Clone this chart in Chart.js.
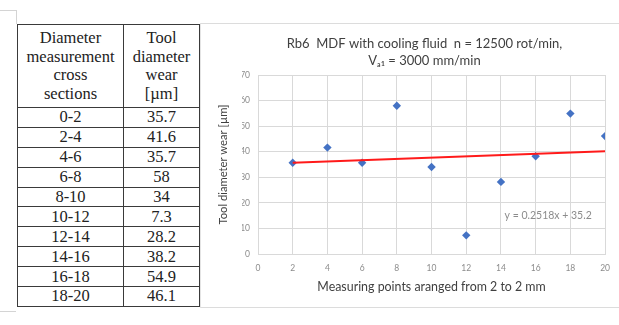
<!DOCTYPE html>
<html>
<head>
<meta charset="utf-8">
<script src="https://cdn.jsdelivr.net/npm/chart.js@4/dist/chart.umd.min.js"></script>
<style>
  html, body { margin: 0; padding: 0; background: #fff; }
  body { width: 619px; height: 325px; position: relative; overflow: hidden; }
  #tbl { position: absolute; left: 17px; top: 24px; border-collapse: collapse; table-layout: fixed; width: 182px;
         font-family: "Liberation Serif", "Times New Roman", serif; font-size: 16.5px; color: #222; }
  #tbl td, #tbl th { border: 1.5px solid #3a3a3a; padding: 0; text-align: center; font-weight: normal; overflow: visible; white-space: nowrap; }
  #tbl th { height: 82px; line-height: 18.5px; vertical-align: middle; }
  #tbl td { height: 18.9px; line-height: 18px; }
  #frame { position: absolute; left: 200px; top: 23px; width: 430px; height: 283px;
           border-left: 1px solid #e4e4e4; border-top: 1px solid #dcdcdc; border-bottom: 1px solid #dcdcdc; }
  #wrap { position: absolute; left: 200px; top: 24px; width: 419px; height: 282px; }
  .mk { position: absolute; background: #d4d4d4; }
</style>
</head>
<body>
<div class="mk" style="left:0;top:10px;width:16px;height:1px"></div>
<div class="mk" style="left:16px;top:10px;width:1px;height:14px"></div>
<div class="mk" style="left:0;top:311px;width:16px;height:1px"></div>
<table id="tbl"><colgroup><col style="width:106px"><col style="width:76px"></colgroup></table>
<div id="frame"></div>
<div id="wrap"><canvas id="c" width="419" height="282"></canvas></div>
<script>
// ---- data ----
const tableHeaders = [["Diameter", "measurement", "cross", "sections"], ["Tool", "diameter", "wear", "[\u00b5m]"]];
const sections = ["0-2", "2-4", "4-6", "6-8", "8-10", "10-12", "12-14", "14-16", "16-18", "18-20"];
const measuringPoints = [2, 4, 6, 8, 10, 12, 14, 16, 18, 20];
const wear = [35.7, 41.6, 35.7, 58, 34, 7.3, 28.2, 38.2, 54.9, 46.1];
const trendX = [2, 20];
const trendY = [35.7, 40.2];
const trendLabel = "y = 0.2518x + 35.2";
const chartTitle = ["Rb6  MDF with cooling fluid  n = 12500 rot/min,", "V\u2090\u2081 = 3000 mm/min"];
const xTitle = "Measuring points aranged from 2 to 2 mm";
const yTitle = "Tool diameter wear [\u00b5m]";

// ---- table ----
const tbl = document.getElementById('tbl');
const hr = document.createElement('tr');
tableHeaders.forEach((lines) => {
  const th = document.createElement('th');
  th.innerHTML = lines.join('<br>');
  hr.appendChild(th);
});
tbl.appendChild(hr);
sections.forEach((s, i) => {
  const tr = document.createElement('tr');
  [s, String(wear[i])].forEach(v => { const td = document.createElement('td'); td.textContent = v; tr.appendChild(td); });
  tbl.appendChild(tr);
});

// ---- chart ----
const labelPlugin = {
  id: 'trendLabel',
  afterDatasetsDraw(chart) {
    const {ctx, scales: {x, y}} = chart;
    ctx.save();
    ctx.font = '10.5px Lato, "Open Sans", sans-serif';
    ctx.fillStyle = '#8c8c8c';
    ctx.textAlign = 'center';
    ctx.textBaseline = 'middle';
    ctx.fillText(trendLabel, x.getPixelForValue(16.72), y.getPixelForValue(14.9));
    ctx.restore();
  }
};

new Chart(document.getElementById('c'), {
  type: 'scatter',
  data: {
    datasets: [
      {
        data: measuringPoints.map((v, i) => ({x: v, y: wear[i]})),
        pointStyle: 'rectRot', pointRadius: 4.2, pointHoverRadius: 4.2,
        backgroundColor: '#4472C4', borderColor: '#4472C4', borderWidth: 0, order: 2
      },
      {
        type: 'line',
        data: trendX.map((v, i) => ({x: v, y: trendY[i]})),
        borderColor: '#FF1A1A', borderWidth: 2, pointRadius: 0, fill: false, order: 1
      }
    ]
  },
  options: {
    responsive: false, animation: false, devicePixelRatio: 1,
    layout: { padding: { left: 42, right: 12, top: 0, bottom: 0 } },
    plugins: {
      legend: { display: false },
      tooltip: { enabled: false },
      title: {
        display: true, text: chartTitle, color: '#404040',
        font: { family: 'Lato, "Open Sans", sans-serif', size: 13, weight: 'normal', lineHeight: 1.25 },
        padding: { top: 12, bottom: 6.5 }
      }
    },
    scales: {
      x: {
        type: 'linear', min: 0, max: 20,
        ticks: { stepSize: 2, color: '#8c8c8c', padding: 9, font: { family: 'Lato, sans-serif', size: 8.5 } },
        grid: { color: '#d9d9d9', drawTicks: false },
        border: { display: true, color: '#d9d9d9' },
        title: { display: true, text: xTitle, color: '#404040',
                 font: { family: 'Lato, "Open Sans", sans-serif', size: 12.4 }, padding: { top: 0, bottom: 11.5 } },
        afterFit(s) { s.height = 52; }
      },
      y: {
        min: 0, max: 70,
        ticks: { stepSize: 10, color: '#8c8c8c', padding: 8, font: { family: 'Lato, sans-serif', size: 8.5 } },
        grid: { color: '#d9d9d9', drawTicks: false },
        border: { display: true, color: '#d9d9d9' },
        title: { display: true, text: yTitle, color: '#404040',
                 font: { family: 'Lato, "Open Sans", sans-serif', size: 11.2 }, padding: { top: -25.7, bottom: 0 } },
        afterFit(s) { s.width = 16; }
      }
    }
  },
  plugins: [labelPlugin]
});
</script>
</body>
</html>
